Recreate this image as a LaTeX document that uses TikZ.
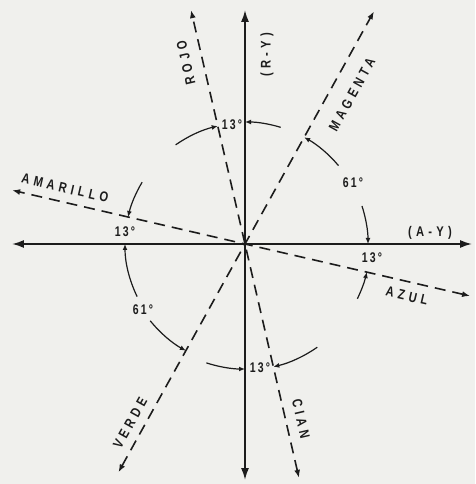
\documentclass[tikz,border=0pt]{standalone}
\usepackage{fontspec}
\setmainfont{Liberation Sans}
\newfontfamily\letfont[FakeStretch=0.8,LetterSpace=30]{Liberation Sans Bold}
\newfontfamily\numfont[FakeStretch=0.75,LetterSpace=16]{Liberation Sans Bold}
\usetikzlibrary{arrows.meta}
\definecolor{bg}{RGB}{240,240,237}
\definecolor{ink}{RGB}{28,28,28}
\begin{document}
\begin{tikzpicture}[x=1pt,y=1pt,
  axis/.style={line width=1.7pt, draw=ink, {Latex[length=12pt,width=8pt]}-{Latex[length=12pt,width=8pt]}},
  dline/.style={line width=1.6pt, draw=ink, dash pattern=on 11pt off 7pt, {Latex[length=8pt,width=6pt]}-{Latex[length=8pt,width=6pt]}},
  dimarc/.style={line width=1.2pt, draw=ink, -{Latex[length=6pt,width=5pt]}},
  lbl/.style={font=\letfont\fontsize{14}{14}\selectfont, text=ink, inner sep=0pt},
  ang/.style={font=\numfont\fontsize{14}{14}\selectfont, text=ink, inner sep=0pt}
]
\fill[bg] (-245,-240) rectangle (230,244);
\useasboundingbox (-245,-240) rectangle (230,244);
% tips
\coordinate (O) at (0,0);
\coordinate (ry) at (90:234pt);
\coordinate (ryn) at (270:236pt);
\coordinate (ay) at (0:227pt);
\coordinate (ayn) at (180:233pt);
\coordinate (rojo) at (103:240pt);
\coordinate (cian) at (283:240pt);
\coordinate (magenta) at (61:266pt);
\coordinate (verde) at (241:261pt);
\coordinate (amarillo) at (167:239pt);
\coordinate (azul) at (347:231pt);
% dashed colour lines
\draw[dline] (cian) -- (rojo);
\draw[dline] (verde) -- (magenta);
\draw[dline] (azul) -- (amarillo);
% axes
\draw[axis] (ryn) -- (ry);
\draw[axis] (ayn) -- (ay);
% dimension arcs
\draw[dimarc] (125:121pt) arc[start angle=125,end angle=103,radius=121pt];
\draw[dimarc] (73:122pt) arc[start angle=73,end angle=90,radius=122pt];
\draw[dimarc] (40:122pt) arc[start angle=40,end angle=61,radius=122pt];
\draw[dimarc] (18:123pt) arc[start angle=18,end angle=0,radius=123pt];
\draw[dimarc] (-26:125pt) arc[start angle=-26,end angle=-13,radius=125pt];
\draw[dimarc] (149:120pt) arc[start angle=149,end angle=167,radius=120pt];
\draw[dimarc] (206:120pt) arc[start angle=206,end angle=180,radius=120pt];
\draw[dimarc] (219:122pt) arc[start angle=219,end angle=241,radius=122pt];
\draw[dimarc] (252:125pt) arc[start angle=252,end angle=270,radius=125pt];
\draw[dimarc] (305:126pt) arc[start angle=305,end angle=283,radius=126pt];
% angle labels
\node[ang] (a1) at (-13,119) {13°};
\node[ang] (a2) at (-120,12) {13°};
\node[ang] (a3) at (108,61) {61°};
\node[ang] (a4) at (127,-14) {13°};
\node[ang] (a5) at (-102,-66) {61°};
\node[ang] (a6) at (15,-124) {13°};
% names
\node[lbl,rotate=103] (tR) at (-59,181) {ROJO};
\node[lbl,rotate=90] (tRY) at (22,189) {(R-Y)};
\node[lbl,rotate=61] (tM) at (107,149) {MAGENTA};
\node[lbl,rotate=-13] (tAm) at (-180,56) {AMARILLO};
\node[lbl,rotate=-13] (tAz) at (162,-52) {AZUL};
\node[lbl] (tAY) at (185,11) {(A-Y)};
\node[lbl,rotate=61] (tV) at (-115,-179) {VERDE};
\node[lbl,rotate=-77] (tC) at (56,-175) {CIAN};
\end{tikzpicture}
\end{document}
